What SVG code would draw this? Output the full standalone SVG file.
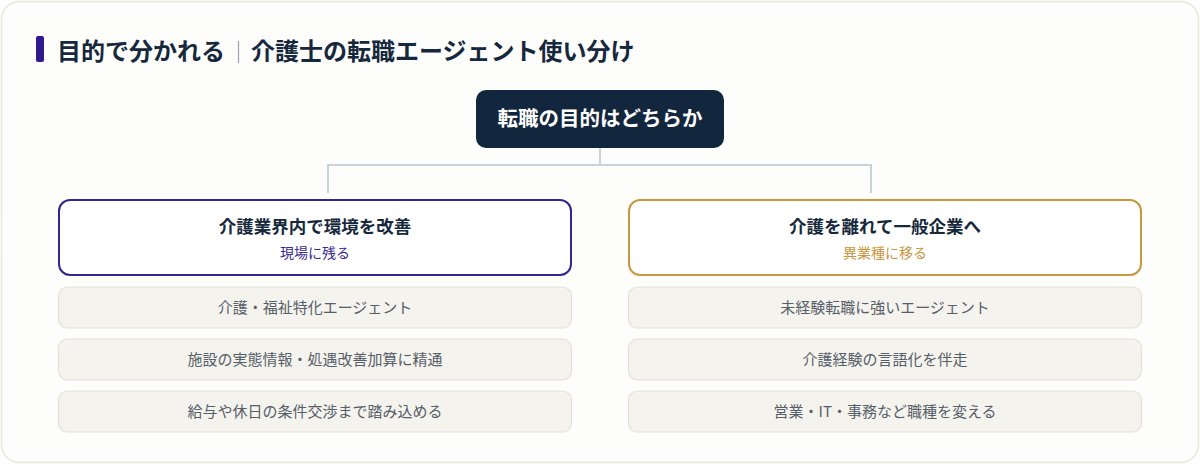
<svg xmlns="http://www.w3.org/2000/svg" width="1200" height="464" viewBox="0 0 1200 464">
<style>
text{font-family:"Noto Sans CJK JP","Noto Sans",sans-serif;text-anchor:middle}
.title{font-size:24px;font-weight:700;fill:#16283b;text-anchor:start}
.item rect{fill:#f5f3ee;stroke:#e3e0d6;stroke-width:1.2}
.item text{font-size:15px;fill:#565e68}
.bt{font-size:17.5px;font-weight:700;fill:#16283b}
.bs{font-size:14px}
.conn{fill:none;stroke:#cbd3da;stroke-width:2}
</style>
<rect x="1.5" y="1.5" width="1197" height="461" rx="18" fill="#fdfdfb" stroke="#e9e7dc" stroke-width="1.5"/>
<g id="title">
<rect x="36" y="36" width="8" height="26" rx="2" fill="#2e1a8c"/>
<text class="title" x="57" y="60">目的で分かれる</text>
<line x1="238.5" y1="41" x2="238.5" y2="63" stroke="#9aa3ad" stroke-width="1.2"/>
<text class="title" x="251" y="60">介護士の転職エージェント使い分け</text>
</g>
<g id="connectors">
<path class="conn" d="M600 148V165M328 193V165H871V193"/>
</g>
<g id="root">
<rect x="476" y="90" width="248" height="58" rx="10" fill="#12263e"/>
<text x="600" y="126" font-size="20.5" font-weight="700" fill="#ffffff">転職の目的はどちらか</text>
</g>
<g id="left">
<rect x="59" y="200" width="512" height="75" rx="11" fill="#ffffff" stroke="#35248c" stroke-width="2"/>
<text class="bt" x="315" y="233">介護業界内で環境を改善</text>
<text class="bs" x="315" y="258" fill="#3a2990">現場に残る</text>
</g>
<g id="right">
<rect x="629" y="200" width="512" height="75" rx="11" fill="#ffffff" stroke="#c9973f" stroke-width="2"/>
<text class="bt" x="885" y="233">介護を離れて一般企業へ</text>
<text class="bs" x="885" y="258" fill="#c9973f">異業種に移る</text>
</g>
<g id="l1" class="item"><rect x="58.5" y="287" width="513" height="41" rx="9"/><text x="315" y="313">介護・福祉特化エージェント</text></g>
<g id="l2" class="item"><rect x="58.5" y="339" width="513" height="41" rx="9"/><text x="315" y="365">施設の実態情報・処遇改善加算に精通</text></g>
<g id="l3" class="item"><rect x="58.5" y="391" width="513" height="41" rx="9"/><text x="315" y="417">給与や休日の条件交渉まで踏み込める</text></g>
<g id="r1" class="item"><rect x="628.5" y="287" width="513" height="41" rx="9"/><text x="885" y="313">未経験転職に強いエージェント</text></g>
<g id="r2" class="item"><rect x="628.5" y="339" width="513" height="41" rx="9"/><text x="885" y="365">介護経験の言語化を伴走</text></g>
<g id="r3" class="item"><rect x="628.5" y="391" width="513" height="41" rx="9"/><text x="885" y="417">営業・IT・事務など職種を変える</text></g>
</svg>
